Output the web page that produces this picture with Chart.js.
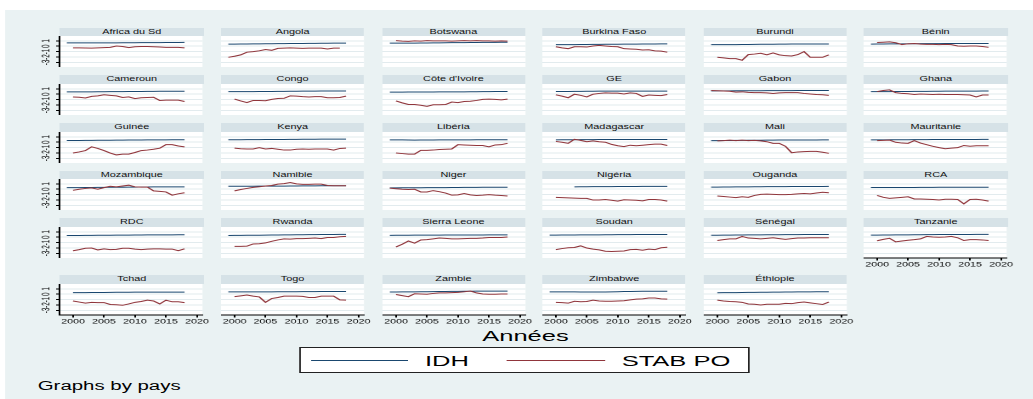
<!DOCTYPE html>
<html>
<head>
<meta charset="utf-8">
<script src="https://cdn.jsdelivr.net/npm/chart.js@4.4.1/dist/chart.umd.min.js"></script>
<style>
  html, body { margin: 0; padding: 0; background: #fff; overflow: hidden; }
  body { width: 1033px; height: 399px; position: relative; font-family: "Liberation Sans", Arial, sans-serif; }
  /* l'image d'origine est étirée horizontalement : tout est dessiné en coordonnées logiques puis scaleX */
  #fig { position: absolute; left: 0; top: 0; width: 607.65px; height: 399px; transform: scaleX(1.7); transform-origin: 0 0; }
  #fond { position: absolute; left: 2.94px; top: 9.5px; right: 0; bottom: 0; background: #eaf2f3; }
  .bande { position: absolute; background: #d6e2e7; color: #111; font-size: 6.4px; text-align: center; white-space: nowrap; }
  canvas { position: absolute; }
  .txt { position: absolute; white-space: nowrap; color: #000; }
  #legende { position: absolute; background: #fff; border: 1px solid #222; box-sizing: border-box; }
  .trait { position: absolute; height: 1px; }
</style>
</head>
<body>
<div id="fig">
  <div id="fond"></div>
</div>
<script>
"use strict";

var pays = ["Africa du Sd", "Angola", "Botswana", "Burkina Faso", "Burundi", "Bénin",
            "Cameroun", "Congo", "Côte d'Ivoire", "GE", "Gabon", "Ghana",
            "Guinée", "Kenya", "Libéria", "Madagascar", "Mali", "Mauritanie",
            "Mozambique", "Namibie", "Niger", "Nigéria", "Ouganda", "RCA",
            "RDC", "Rwanda", "Sierra Leone", "Soudan", "Sénégal", "Tanzanie",
            "Tchad", "Togo", "Zambie", "Zimbabwe", "Éthiopie"];

var annees = [1999, 2000, 2001, 2002, 2003, 2004, 2005, 2006, 2007, 2008, 2009,
              2010, 2011, 2012, 2013, 2014, 2015, 2016, 2017, 2018];

var ticksX = [2000, 2005, 2010, 2015, 2020];
var ticksY = [-3, -2, -1, 0, 1];

// IDH par pays (1999 -> 2018)
var idh = [
  [.63, .63, .62, .62, .62, .62, .62, .63, .63, .64, .64, .65, .66, .66, .67, .68, .69, .70, .70, .71], // Africa du Sd
  [.39, .40, .41, .42, .43, .44, .46, .47, .48, .49, .50, .51, .52, .53, .54, .55, .56, .57, .58, .58], // Angola
  [.58, .58, .58, .58, .59, .60, .61, .62, .63, .65, .66, .67, .68, .69, .70, .71, .71, .72, .73, .73], // Botswana
  [null, .29, .29, .30, .31, .32, .33, .34, .35, .36, .37, .38, .39, .39, .40, .41, .41, .42, .43, .43], // Burkina Faso
  [.29, .29, .29, .30, .31, .32, .33, .34, .36, .37, .38, .39, .40, .41, .42, .42, .42, .42, .42, .42], // Burundi
  [.40, .41, .42, .43, .44, .45, .46, .47, .48, .48, .49, .49, .50, .51, .51, .52, .52, .52, .52, .52], // Bénin
  [.44, .44, .44, .45, .45, .46, .47, .48, .49, .49, .50, .51, .52, .53, .54, .55, .55, .56, .56, .56], // Cameroun
  [.48, .48, .48, .49, .49, .50, .51, .52, .53, .54, .55, .56, .57, .58, .59, .60, .60, .61, .61, .61], // Congo
  [.40, .40, .40, .41, .41, .41, .42, .42, .43, .43, .44, .45, .45, .46, .47, .48, .49, .50, .51, .52], // Côte d'Ivoire
  [null, .50, .51, .52, .53, .54, .55, .56, .57, .58, .58, .58, .58, .58, .58, .58, .59, .59, .59, .59], // GE
  [.63, .63, .63, .63, .64, .64, .64, .65, .65, .66, .66, .67, .68, .68, .69, .69, .70, .70, .70, .70], // Gabon
  [.48, .48, .49, .49, .50, .51, .52, .53, .53, .54, .55, .56, .57, .57, .58, .58, .59, .59, .60, .60], // Ghana
  [.32, .33, .33, .34, .35, .36, .37, .38, .39, .40, .41, .41, .42, .43, .44, .45, .45, .46, .46, .47], // Guinée
  [.47, .47, .47, .48, .48, .49, .50, .51, .52, .52, .53, .54, .55, .55, .56, .57, .58, .58, .58, .58], // Kenya
  [.43, .43, .43, .41, .40, .41, .42, .42, .43, .43, .44, .44, .45, .45, .46, .46, .46, .46, .46, .47], // Libéria
  [null, .45, .46, .46, .47, .48, .48, .49, .50, .50, .51, .51, .51, .51, .52, .52, .52, .52, .52, .52], // Madagascar
  [.30, .31, .32, .33, .34, .35, .36, .37, .38, .39, .40, .41, .41, .41, .41, .42, .42, .42, .43, .43], // Mali
  [.44, .44, .45, .46, .46, .47, .47, .48, .49, .49, .50, .50, .51, .51, .52, .52, .52, .52, .53, .53], // Mauritanie
  [.29, .30, .31, .32, .33, .34, .35, .36, .37, .38, .39, .40, .41, .42, .43, .43, .44, .45, .45, .45], // Mozambique
  [.56, .56, .56, .56, .56, .57, .57, .58, .59, .59, .60, .61, .62, .63, .63, .64, .64, .65, .65, .65], // Namibie
  [.26, .26, .27, .27, .28, .28, .29, .30, .31, .31, .32, .33, .34, .35, .35, .36, .37, .37, .38, .38], // Niger
  [null, null, null, null, .44, .46, .47, .48, .48, .49, .49, .50, .51, .51, .52, .53, .53, .53, .53, .53], // Nigéria
  [.39, .40, .41, .42, .43, .44, .45, .46, .47, .48, .48, .49, .49, .50, .50, .51, .51, .52, .52, .53], // Ouganda
  [.32, .32, .32, .32, .32, .32, .33, .33, .34, .34, .35, .36, .36, .37, .36, .36, .37, .37, .38, .38], // RCA
  [.33, .33, .33, .34, .35, .36, .37, .38, .39, .39, .40, .41, .42, .43, .44, .44, .45, .45, .46, .46], // RDC
  [.32, .34, .35, .36, .37, .38, .39, .41, .42, .43, .44, .46, .47, .48, .49, .50, .51, .52, .53, .54], // Rwanda
  [.35, .37, .38, .38, .39, .39, .40, .40, .40, .41, .41, .41, .41, .42, .42, .42, .43, .43, .44, .44], // Sierra Leone
  [.40, .40, .41, .41, .42, .43, .44, .45, .45, .46, .47, .48, .48, .49, .50, .50, .50, .51, .51, .51], // Soudan
  [.38, .38, .39, .40, .41, .42, .43, .44, .45, .46, .47, .47, .48, .48, .49, .50, .50, .51, .51, .51], // Sénégal
  [.39, .40, .41, .42, .43, .44, .45, .46, .47, .48, .49, .50, .50, .51, .51, .52, .52, .53, .53, .53], // Tanzanie
  [null, .29, .30, .31, .32, .33, .33, .35, .36, .37, .38, .39, .39, .40, .40, .40, .40, .40, .40, .40], // Tchad
  [.43, .43, .43, .44, .44, .44, .45, .45, .46, .46, .47, .47, .48, .48, .49, .50, .50, .50, .51, .51], // Togo
  [.42, .42, .43, .44, .45, .46, .47, .48, .50, .51, .53, .54, .55, .56, .57, .57, .58, .58, .59, .59], // Zambie
  [.45, .45, .44, .44, .43, .42, .42, .42, .42, .42, .45, .47, .50, .52, .54, .55, .55, .56, .56, .56], // Zimbabwe
  [null, .28, .29, .30, .31, .32, .34, .35, .37, .38, .39, .40, .41, .42, .43, .44, .45, .46, .46, .47]  // Éthiopie
];

// STAB PO (stabilité politique) par pays (1999 -> 2018)
var stabPo = [
  [null, -0.3, -0.3, -0.32, -0.35, -0.3, -0.25, -0.2, 0.05, -0.05, -0.25, -0.1, -0.05, -0.05, -0.1, -0.15, -0.2, -0.2, -0.2, -0.3],
  [-2.05, -1.85, -1.6, -1.1, -1.0, -0.85, -0.6, -0.75, -0.4, -0.35, -0.3, -0.35, -0.4, -0.35, -0.35, -0.35, -0.5, -0.35, -0.35, null],
  [null, 1.05, 0.95, 0.9, 1.0, 0.95, 1.05, 1.0, 1.0, 1.0, 0.95, 1.0, 1.05, 1.0, 1.05, 1.0, 1.0, 0.95, 1.0, 0.95],
  [null, -0.1, -0.3, -0.45, -0.1, -0.1, -0.15, 0.05, 0.15, 0.05, -0.05, -0.1, -0.45, -0.5, -0.55, -0.7, -0.65, -0.85, -0.9, -1.1],
  [null, -2.05, -2.15, -2.3, -2.3, -2.6, -1.55, -1.45, -1.3, -1.6, -1.25, -1.6, -1.75, -1.8, -1.55, -1.0, -2.05, -2.05, -2.05, -1.6],
  [null, 0.7, 0.75, 0.8, 0.65, 0.3, 0.45, 0.5, 0.4, 0.35, 0.35, 0.3, 0.35, 0.3, 0.05, 0.0, 0.05, 0.05, -0.05, -0.2],
  [null, -0.5, -0.55, -0.7, -0.4, -0.3, -0.1, -0.2, -0.3, -0.6, -0.5, -0.8, -0.65, -0.6, -0.55, -1.15, -1.1, -1.1, -1.1, -1.35],
  [null, -0.9, -1.25, -1.55, -1.15, -1.15, -1.2, -0.95, -0.8, -0.75, -0.3, -0.35, -0.45, -0.5, -0.45, -0.45, -0.65, -0.65, -0.6, -0.35],
  [null, -1.25, -1.6, -1.9, -1.9, -2.05, -2.25, -1.95, -1.95, -1.9, -1.45, -1.55, -1.35, -1.3, -1.15, -0.95, -0.9, -0.95, -1.05, -0.9],
  [null, -0.1, -0.35, -0.65, 0.0, -0.2, -0.5, 0.0, 0.15, 0.25, 0.2, 0.2, 0.05, 0.25, 0.15, -0.4, -0.15, -0.2, -0.25, -0.05],
  [0.7, 0.65, 0.6, 0.55, 0.4, 0.45, 0.35, 0.3, 0.3, 0.25, 0.15, 0.25, 0.3, 0.3, 0.3, 0.15, 0.05, -0.05, -0.1, -0.2],
  [null, 0.5, 0.7, 0.8, 0.3, 0.15, 0.1, -0.05, 0.05, 0.0, -0.05, 0.0, -0.05, -0.05, -0.05, -0.1, -0.15, -0.5, -0.15, -0.15],
  [null, -2.0, -1.8, -1.55, -0.85, -1.15, -1.55, -2.0, -2.35, -2.2, -2.2, -1.9, -1.55, -1.45, -1.3, -1.1, -0.45, -0.45, -0.7, -0.85],
  [null, -1.1, -1.2, -1.25, -1.25, -1.0, -1.25, -1.15, -1.3, -1.45, -1.45, -1.3, -1.25, -1.3, -1.25, -1.25, -1.25, -1.45, -1.15, -1.1],
  [null, -2.0, -2.1, -2.2, -2.2, -1.5, -1.5, -1.45, -1.35, -1.3, -1.25, -0.45, -0.5, -0.55, -0.6, -0.6, -0.85, -0.5, -0.45, -0.2],
  [null, 0.15, 0.0, -0.2, 0.55, 0.35, 0.1, 0.25, 0.1, 0.0, -0.4, -0.65, -0.8, -0.55, -0.65, -0.55, -0.45, -0.35, -0.35, -0.6],
  [null, 0.25, 0.3, 0.4, 0.3, 0.4, 0.3, 0.35, 0.25, 0.1, -0.2, -0.2, -0.75, -1.95, -1.8, -1.75, -1.7, -1.7, -1.85, -2.05],
  [null, 0.3, 0.35, 0.4, 0.0, -0.15, -0.2, 0.3, -0.15, -0.45, -0.75, -1.0, -1.2, -1.1, -1.0, -0.6, -0.75, -0.65, -0.65, -0.65],
  [null, -0.2, 0.0, 0.15, 0.25, 0.0, 0.3, 0.55, 0.45, 0.6, 0.75, 0.45, 0.4, 0.4, -0.3, -0.4, -0.5, -1.1, -0.85, -0.65],
  [null, -0.3, -0.05, 0.15, 0.35, 0.45, 0.6, 0.7, 0.95, 1.05, 1.25, 1.0, 0.9, 0.9, 0.95, 0.95, 0.7, 0.65, 0.65, 0.65],
  [0.2, 0.1, 0.0, -0.05, 0.0, -0.5, -0.5, -0.25, -0.45, -0.7, -1.1, -1.05, -0.8, -1.05, -1.15, -1.1, -1.0, -1.1, -1.15, -1.25],
  [null, -1.5, -1.55, -1.6, -1.65, -1.7, -1.7, -2.0, -2.0, -1.9, -2.05, -2.2, -1.95, -2.0, -2.05, -2.15, -1.9, -1.9, -2.0, -2.2],
  [null, -1.25, -1.35, -1.45, -1.55, -1.4, -1.5, -1.15, -0.95, -0.9, -0.95, -1.0, -1.0, -0.95, -0.85, -0.8, -0.85, -0.7, -0.55, -0.65],
  [null, -1.15, -1.5, -1.7, -1.6, -1.5, -1.4, -1.8, -1.8, -1.85, -1.9, -2.0, -1.85, -1.85, -1.9, -2.7, -1.9, -1.85, -2.0, -2.2],
  [null, -2.5, -2.3, -2.05, -2.0, -2.35, -2.15, -2.3, -2.25, -2.05, -2.05, -2.2, -2.3, -2.2, -2.15, -2.15, -2.2, -2.2, -2.5, -2.15],
  [null, -1.7, -1.7, -1.65, -1.25, -1.2, -1.05, -0.75, -0.5, -0.3, -0.35, -0.25, -0.25, -0.2, -0.15, -0.25, -0.05, -0.05, 0.1, 0.15],
  [null, -1.8, -1.3, -0.7, -1.1, -0.5, -0.45, -0.3, -0.15, -0.2, -0.3, -0.3, -0.25, -0.2, -0.2, -0.15, -0.05, -0.05, -0.05, 0.05],
  [null, -2.3, -2.1, -1.95, -1.9, -1.6, -2.0, -2.2, -2.35, -2.6, -2.65, -2.6, -2.55, -2.3, -2.25, -2.4, -2.2, -2.3, -1.95, -1.85],
  [null, -0.6, -0.45, -0.3, -0.3, 0.15, -0.15, -0.2, -0.3, -0.2, -0.1, -0.25, -0.4, -0.25, -0.15, -0.15, -0.1, -0.1, -0.1, -0.1],
  [null, -0.65, -0.4, -0.2, -0.85, -0.7, -0.55, -0.45, -0.3, 0.15, 0.05, 0.0, 0.05, 0.15, -0.1, -0.6, -0.45, -0.45, -0.5, -0.6],
  [null, -1.25, -1.45, -1.65, -1.5, -1.55, -1.55, -1.9, -1.95, -2.05, -1.8, -1.5, -1.35, -1.1, -1.25, -1.8, -1.1, -1.4, -1.4, -1.55],
  [null, -0.45, -0.3, -0.15, -0.35, -0.5, -1.5, -0.8, -0.6, -0.35, -0.35, -0.35, -0.4, -0.6, -0.6, -0.35, -0.35, -0.35, -1.05, -1.1],
  [null, -0.05, -0.25, -0.45, 0.1, 0.05, 0.0, 0.15, 0.25, 0.25, 0.3, 0.35, 0.45, 0.6, 0.25, 0.05, 0.0, 0.0, 0.05, 0.05],
  [null, -1.5, -1.55, -1.65, -1.3, -1.4, -1.35, -1.1, -1.25, -1.3, -1.3, -1.25, -1.2, -1.05, -0.9, -0.85, -0.7, -0.7, -0.85, -0.9],
  [null, -1.1, -1.25, -1.35, -1.4, -1.5, -1.8, -1.85, -2.0, -1.85, -1.85, -1.85, -1.7, -1.75, -1.55, -1.45, -1.6, -1.75, -1.9, -1.45]
];

var bleu = '#1a476f';
var rouge = '#90353b';
var grille = '#e2ebee';
var police = '"Liberation Sans", Arial, sans-serif';

// mise en page (coordonnées logiques, avant l'étirement x1.7)
var colGauche = 35.47, colPas = 94.59, largeur = 84.1;
var hautBandes = [27.7, 75.35, 123, 170.65, 218.3, 275];
var hBande = 8.5, hPlot = 31;

var fig = document.getElementById('fig');

var fondBlanc = {
    id: 'fondBlanc',
    beforeDraw: function (chart) {
        var a = chart.chartArea;
        chart.ctx.save();
        chart.ctx.fillStyle = '#ffffff';
        chart.ctx.fillRect(a.left, a.top, a.right - a.left, a.bottom - a.top);
        chart.ctx.restore();
    }
};

function serie(valeurs) {
    var pts = [];
    for (var j = 0; j < annees.length; j++) {
        pts.push({x: annees[j], y: valeurs[j]});
    }
    return pts;
}

function panneau(i) {
    var col = i % 6;
    var ligne = Math.floor(i / 6);
    var aGauche = col === 0;
    var enBas = ligne === 5 || i === 29;

    var x0 = colGauche + col * colPas;
    var y0 = hautBandes[ligne];

    var bande = document.createElement('div');
    bande.className = 'bande';
    bande.style.left = x0 + 'px';
    bande.style.top = y0 + 'px';
    bande.style.width = largeur + 'px';
    bande.style.height = hBande + 'px';
    bande.style.lineHeight = hBande + 'px';
    bande.textContent = pays[i];
    fig.appendChild(bande);

    var padG = aGauche ? 20 : 0;
    var largeurAxeY = aGauche ? 16 : 0;
    var w = Math.ceil(padG + largeur + 8);
    var padD = w - padG - largeur;
    var hauteurAxeX = enBas ? 10 : 0;
    var h = enBas ? hPlot + 12 : hPlot;
    var padB = h - hPlot - hauteurAxeX;

    var cv = document.createElement('canvas');
    cv.width = w;
    cv.height = h;
    cv.style.left = (x0 - padG) + 'px';
    cv.style.top = (y0 + hBande) + 'px';
    fig.appendChild(cv);

    new Chart(cv.getContext('2d'), {
        type: 'line',
        data: {
            datasets: [{
                label: 'IDH',
                data: serie(idh[i]),
                borderColor: bleu,
                borderWidth: 1,
                pointRadius: 0,
                order: 1
            }, {
                label: 'STAB PO',
                data: serie(stabPo[i]),
                borderColor: rouge,
                borderWidth: 1,
                pointRadius: 0,
                order: 0
            }]
        },
        options: {
            responsive: false,
            animation: false,
            devicePixelRatio: 2,
            events: [],
            layout: {padding: {left: padG - largeurAxeY, right: padD, top: 0, bottom: padB}},
            plugins: {legend: {display: false}, tooltip: {enabled: false}},
            scales: {
                x: {
                    type: 'linear',
                    min: 1997.82,
                    max: 2020.9,
                    display: enBas,
                    afterBuildTicks: function (s) { s.ticks = ticksX.map(function (v) { return {value: v}; }); },
                    afterFit: function (s) {
                        s.height = hauteurAxeX;
                        s.paddingLeft = 0; s.paddingRight = 0;
                    },
                    grid: {drawOnChartArea: false, drawTicks: true, tickLength: 2.5, tickColor: '#000', color: '#000'},
                    border: {display: true, color: '#000', width: 1},
                    ticks: {
                        autoSkip: false, maxRotation: 0, padding: 0.5, color: '#000',
                        font: {family: police, size: 6.3},
                        callback: function (v) { return String(v); }
                    }
                },
                y: {
                    type: 'linear',
                    min: -3.85,
                    max: 1.9,
                    display: true,
                    afterBuildTicks: function (s) { s.ticks = ticksY.map(function (v) { return {value: v}; }); },
                    afterFit: function (s) {
                        s.width = largeurAxeY;
                        s.paddingTop = 0; s.paddingBottom = 0;
                    },
                    grid: {color: grille, lineWidth: 1, drawTicks: aGauche, tickLength: 2, tickColor: '#000'},
                    border: {display: aGauche, color: '#000', width: 1},
                    ticks: {
                        display: aGauche, autoSkip: false, minRotation: 90, maxRotation: 90,
                        crossAlign: 'center', padding: 3, color: '#000',
                        font: {family: police, size: 6.3},
                        callback: function (v) { return String(v); }
                    }
                }
            }
        },
        plugins: [fondBlanc]
    });
}

for (var i = 0; i < pays.length; i++) {
    panneau(i);
}

function texte(contenu, x, y, taille, centre) {
    var d = document.createElement('div');
    d.className = 'txt';
    d.textContent = contenu;
    d.style.fontSize = taille + 'px';
    d.style.lineHeight = taille + 'px';
    d.style.top = y + 'px';
    if (centre) {
        d.style.left = (x - 100) + 'px';
        d.style.width = '200px';
        d.style.textAlign = 'center';
    } else {
        d.style.left = x + 'px';
    }
    fig.appendChild(d);
}

// titre de l'axe x
texte('Années', 309.1, 328, 15, true);

// légende
var leg = document.createElement('div');
leg.id = 'legende';
leg.style.left = '175.9px';
leg.style.top = '347.3px';
leg.style.width = '264.9px';
leg.style.height = '26px';
fig.appendChild(leg);

function trait(x1, x2, y, couleur) {
    var t = document.createElement('div');
    t.className = 'trait';
    t.style.left = x1 + 'px';
    t.style.width = (x2 - x1) + 'px';
    t.style.top = y + 'px';
    t.style.background = couleur;
    fig.appendChild(t);
}
trait(182.8, 240.2, 359.8, bleu);
trait(298, 355.9, 359.8, rouge);
texte('IDH', 250, 353.2, 15, false);
texte('STAB PO', 365.7, 353.2, 15, false);

texte('Graphs by pays', 22.2, 380, 12, false);
</script>
</body>
</html>
